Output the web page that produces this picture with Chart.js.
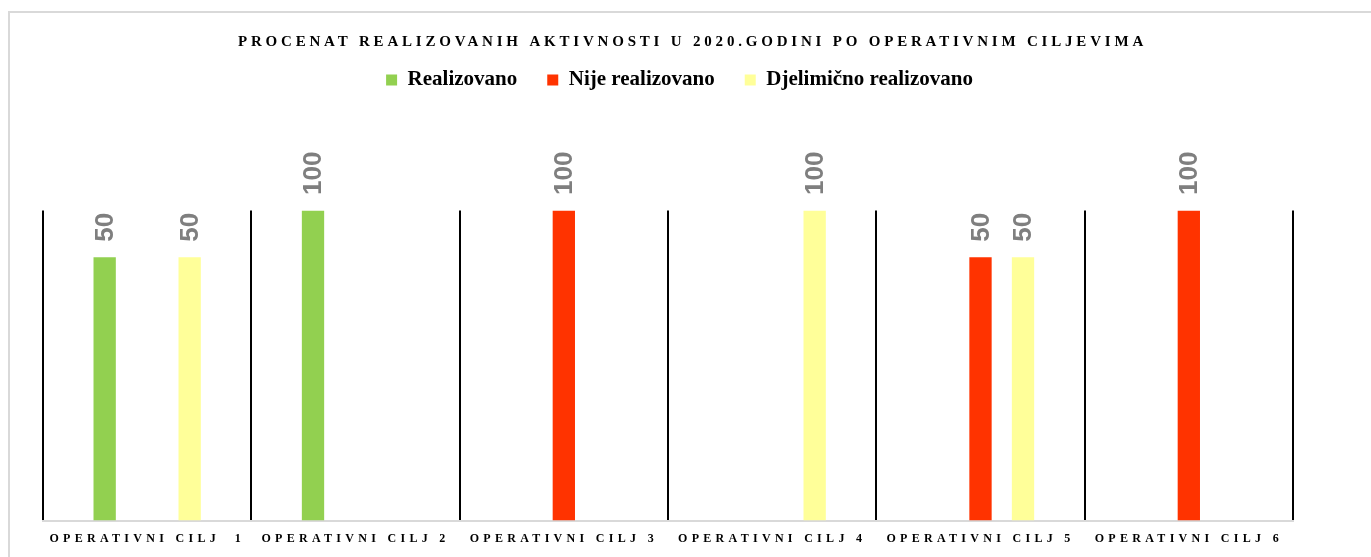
<!DOCTYPE html>
<html>
<head>
<meta charset="utf-8">
<script src="https://cdn.jsdelivr.net/npm/chart.js@4/dist/chart.umd.min.js"></script>
<style>
  html, body { margin: 0; padding: 0; background: #ffffff; overflow: hidden; }
  #wrap { position: relative; width: 1371px; height: 557px; }
  #frame { position: absolute; left: 8px; top: 11px; width: 1400px; height: 600px; border: 2px solid #d9d9d9; box-sizing: border-box; }
  canvas { position: absolute; left: 0; top: 0; }
</style>
</head>
<body>
<div id="wrap">
  <div id="frame"></div>
  <canvas id="c" width="1371" height="557"></canvas>
</div>
<script>
const chartTitle = 'PROCENAT REALIZOVANIH AKTIVNOSTI U 2020.GODINI PO OPERATIVNIM CILJEVIMA';
const categories = ['OPERATIVNI CILJ  1', 'OPERATIVNI CILJ 2', 'OPERATIVNI CILJ 3', 'OPERATIVNI CILJ 4', 'OPERATIVNI CILJ 5', 'OPERATIVNI CILJ 6'];
const seriesNames = ['Realizovano', 'Nije realizovano', 'Djelimično realizovano'];
const realizovano = [50, 100, 0, 0, 0, 0];
const nijeRealizovano = [0, 0, 100, 0, 50, 100];
const djelimicnoRealizovano = [50, 0, 0, 100, 50, 0];
const seriesColors = ['#92D050', '#FF3300', '#FFFF99'];

const seriesValues = [realizovano, nijeRealizovano, djelimicnoRealizovano];

function wrapDraw(obj, name, key, before) {
  if (!obj || obj['__w_' + key]) return;
  const orig = obj[name];
  obj[name] = function () {
    const ctx = this.ctx;
    ctx.save();
    before(ctx);
    try { return orig.apply(this, arguments); } finally { ctx.restore(); ctx.letterSpacing = '0px'; }
  };
  obj['__w_' + key] = true;
}

const stylePlugin = {
  id: 'textStyle',
  beforeDraw(chart) {
    wrapDraw(chart.titleBlock, 'draw', 'title', ctx => { ctx.letterSpacing = '3.8px'; });
    wrapDraw(chart.scales.x, 'drawLabels', 'xlabels', ctx => { ctx.letterSpacing = '4.3px'; });
    wrapDraw(chart.legend, 'draw', 'legend', ctx => { ctx.translate(-13, 0); });
  }
};

const valueLabels = {
  id: 'valueLabels',
  afterDatasetsDraw(chart) {
    const ctx = chart.ctx;
    chart.data.datasets.forEach((ds, i) => {
      const meta = chart.getDatasetMeta(i);
      meta.data.forEach((bar, j) => {
        const v = ds.data[j];
        if (v == null || v <= 0) return;
        ctx.save();
        ctx.translate(bar.x + 1, bar.y - 15.5);
        ctx.rotate(-Math.PI / 2);
        ctx.font = 'bold 26px "Liberation Sans", Arial, sans-serif';
        ctx.fillStyle = '#7f7f7f';
        ctx.textAlign = 'left';
        ctx.textBaseline = 'middle';
        ctx.fillText(String(v), 0, 0);
        ctx.restore();
      });
    });
  }
};

const datasets = seriesNames.map((name, i) => ({
  label: name,
  data: seriesValues[i].map(v => (v > 0 ? v : null)),
  backgroundColor: seriesColors[i],
  borderWidth: 0,
  categoryPercentage: 0.612,
  barPercentage: 0.525
}));

new Chart(document.getElementById('c'), {
  type: 'bar',
  data: { labels: categories, datasets },
  plugins: [stylePlugin, valueLabels],
  options: {
    responsive: false,
    animation: false,
    devicePixelRatio: 1,
    layout: { padding: { left: 14, right: 0, top: 0, bottom: 0 } },
    plugins: {
      title: {
        display: true,
        text: chartTitle,
        color: '#000000',
        font: { family: '"Liberation Serif", "Times New Roman", serif', size: 15, weight: 'bold', lineHeight: 1.2 },
        padding: { top: 33, bottom: -11.5 }
      },
      legend: {
        display: true,
        position: 'top',
        align: 'center',
        labels: {
          color: '#000000',
          font: { family: '"Liberation Serif", "Times New Roman", serif', size: 21, weight: 'bold' },
          boxWidth: 11,
          boxHeight: 11,
          padding: 30
        }
      },
      subtitle: {
        display: true,
        text: '',
        weight: 500,
        font: { size: 10, lineHeight: 1 },
        padding: { top: 0, bottom: 100 }
      },
      tooltip: { enabled: false }
    },
    scales: {
      x: {
        grid: { display: true, offset: true, color: '#000000', lineWidth: 2, drawTicks: false },
        border: { display: true, color: '#d9d9d9', width: 2 },
        ticks: {
          color: '#000000',
          font: { family: '"Liberation Serif", "Times New Roman", serif', size: 12, weight: 'bold', lineHeight: 1.2 },
          padding: 11,
          autoSkip: false,
          maxRotation: 0
        }
      },
      y: {
        type: 'logarithmic',
        min: 1,
        max: 100,
        position: 'left',
        grid: { display: false, drawTicks: false },
        border: { display: false },
        ticks: { display: false },
        afterFit(s) { s.width = 29; }
      },
      y2: {
        type: 'linear',
        position: 'right',
        grid: { display: false, drawTicks: false },
        border: { display: false },
        ticks: { display: false },
        afterFit(s) { s.width = 78; }
      }
    }
  }
});
</script>
</body>
</html>
